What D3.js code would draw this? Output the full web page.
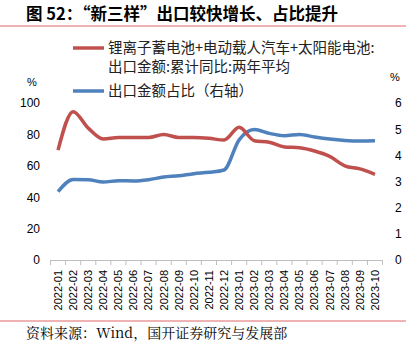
<!DOCTYPE html>
<html><head><meta charset="utf-8">
<script src="https://cdn.jsdelivr.net/npm/d3@7"></script>
<style>body{margin:0;background:#fff}svg{display:block}</style>
</head><body>
<svg id="c" width="414" height="347"></svg>
<script>
const categories = ["2022-01","2022-02","2022-03","2022-04","2022-05","2022-06","2022-07","2022-08","2022-09","2022-10","2022-11","2022-12","2023-01","2023-02","2023-03","2023-04","2023-05","2023-06","2023-07","2023-08","2023-09","2023-10"];
const growthValues = [70,94.5,84,77,78,78,78,80,78,78,77.5,76.4,84.5,76,75,72,71.5,69.4,66,60,58,54.6];
const shareValues = [2.61,3.08,3.07,2.98,3.03,3.02,3.07,3.17,3.22,3.3,3.35,3.44,4.59,4.99,4.84,4.75,4.8,4.7,4.62,4.57,4.55,4.56];
const leftTicks = [0,20,40,60,80,100];
const rightTicks = [0,1,2,3,4,5,6];
const title = "图 52：“新三样”出口较快增长、占比提升";
const legendRed = ["锂离子蓄电池+电动载人汽车+太阳能电池:", "出口金额:累计同比:两年平均"];
const legendBlue = "出口金额占比（右轴）";
const source = "资料来源：Wind，国开证券研究与发展部";

const svg = d3.select("#c");
const cjk = "'Noto Sans CJK SC', sans-serif";
const red = "#C0504D", blue = "#4F81BD";

svg.append("text").attr("x",26).attr("y",20).attr("font-family",cjk).attr("font-size",16.5).attr("font-weight","bold").attr("fill","#000").text(title);
svg.append("line").attr("x1",0).attr("x2",406).attr("y1",26).attr("y2",26).attr("stroke","#E06666").attr("stroke-width",1);
svg.append("line").attr("x1",0).attr("x2",406).attr("y1",321).attr("y2",321).attr("stroke","#E06666").attr("stroke-width",1);
svg.append("text").attr("x",26).attr("y",338).attr("font-family","'Noto Serif CJK SC','Noto Sans CJK SC',serif").attr("font-size",14).attr("fill","#000").text(source);

const x = d3.scaleBand().domain(categories).range([50.5, 382.5]);
const yL = d3.scaleLinear().domain([0,100]).range([260,103]);
const yR = d3.scaleLinear().domain([0,6]).range([260,103]);

// axes labels
const axL = svg.append("g").attr("transform","translate(50,0)").call(d3.axisLeft(yL).tickValues(leftTicks).tickSize(0).tickPadding(10));
axL.select(".domain").remove();
axL.selectAll("text").attr("font-family","'Liberation Sans',Arial,sans-serif").attr("font-size",12).attr("fill","#000");
const axR = svg.append("g").attr("transform","translate(391,0)").call(d3.axisRight(yR).tickValues(rightTicks).tickFormat(d3.format("d")).tickSize(0).tickPadding(4));
axR.select(".domain").remove();
axR.selectAll("text").attr("font-family","'Liberation Sans',Arial,sans-serif").attr("font-size",12).attr("fill","#000");

svg.append("text").attr("x",27).attr("y",86).attr("font-family","'Liberation Sans',Arial,sans-serif").attr("font-size",11).text("%");
svg.append("text").attr("x",390).attr("y",81).attr("font-family","'Liberation Sans',Arial,sans-serif").attr("font-size",11).text("%");

// x axis
const axX = svg.append("g").attr("transform","translate(0,260)").call(d3.axisBottom(x).tickSize(0).tickPadding(0));
axX.select(".domain").attr("stroke","#BFBFBF");
axX.selectAll(".tick text").attr("font-family","'Liberation Sans',Arial,sans-serif").attr("font-size",11).attr("fill","#000")
  .attr("transform","rotate(-90)").attr("text-anchor","end").attr("y",0).attr("x",-10).attr("dy","0.35em");
const bounds = categories.map(c => x(c)).concat([x(categories[categories.length-1]) + x.bandwidth()]);
svg.append("g").selectAll("line").data(bounds).join("line")
  .attr("x1",d=>d).attr("x2",d=>d).attr("y1",260).attr("y2",265).attr("stroke","#BFBFBF");

const cx = d => x(d) + x.bandwidth()/2;
const lineL = d3.line().x((d,i)=>cx(categories[i])).y(d=>yL(d)).curve(d3.curveMonotoneX);
const lineR = d3.line().x((d,i)=>cx(categories[i])).y(d=>yR(d)).curve(d3.curveMonotoneX);
svg.append("path").attr("d",lineR(shareValues)).attr("fill","none").attr("stroke",blue).attr("stroke-width",3.5).attr("stroke-linejoin","round");
svg.append("path").attr("d",lineL(growthValues)).attr("fill","none").attr("stroke",red).attr("stroke-width",3.5).attr("stroke-linejoin","round");

// legend
const lf = 14.5;
svg.append("line").attr("x1",73).attr("x2",104).attr("y1",48).attr("y2",48).attr("stroke",red).attr("stroke-width",3.5);
svg.append("text").attr("x",108).attr("y",53).attr("font-family",cjk).attr("font-size",lf).attr("fill","#222").text(legendRed[0]);
svg.append("text").attr("x",108).attr("y",72).attr("font-family",cjk).attr("font-size",lf).attr("fill","#222").text(legendRed[1]);
svg.append("line").attr("x1",73).attr("x2",104).attr("y1",91).attr("y2",91).attr("stroke",blue).attr("stroke-width",3.5);
svg.append("text").attr("x",108).attr("y",96).attr("font-family",cjk).attr("font-size",lf).attr("fill","#222").text(legendBlue);
</script>
</body></html>
